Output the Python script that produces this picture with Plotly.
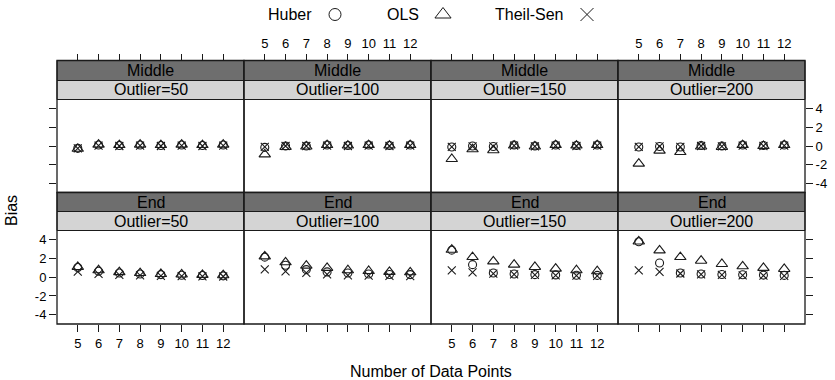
import plotly.graph_objects as go

# ---------------- data ----------------
n_points = [5, 6, 7, 8, 9, 10, 11, 12]
outlier_levels = [50, 100, 150, 200]
locations = ["Middle", "End"]
y_ticks = [-4, -2, 0, 2, 4]
y_tick_text = ["-4", "-2", "0", "2", "4"]

# Middle outlier
huber_mid_50 = [-0.25, 0.10, 0.05, 0.10, 0.05, 0.10, 0.05, 0.10]
ols_mid_50 = [-0.30, 0.15, 0.10, 0.15, 0.10, 0.15, 0.10, 0.15]
ts_mid_50 = [-0.25, 0.05, 0.00, 0.05, 0.00, 0.05, 0.00, 0.05]

huber_mid_100 = [-0.15, 0.00, 0.00, 0.10, 0.05, 0.10, 0.05, 0.10]
ols_mid_100 = [-0.90, -0.10, -0.05, 0.10, 0.05, 0.10, 0.05, 0.10]
ts_mid_100 = [-0.10, 0.00, 0.00, 0.05, 0.00, 0.05, 0.00, 0.05]

huber_mid_150 = [-0.10, 0.00, -0.05, 0.10, 0.00, 0.10, 0.05, 0.10]
ols_mid_150 = [-1.40, -0.35, -0.45, 0.05, -0.05, 0.10, 0.05, 0.10]
ts_mid_150 = [-0.10, -0.05, -0.05, 0.05, -0.05, 0.05, 0.00, 0.05]

huber_mid_200 = [-0.10, -0.05, -0.10, 0.05, 0.00, 0.10, 0.05, 0.10]
ols_mid_200 = [-1.90, -0.50, -0.65, -0.05, -0.10, 0.10, 0.00, 0.10]
ts_mid_200 = [-0.10, -0.05, -0.10, 0.00, -0.05, 0.05, 0.00, 0.05]

# End outlier
huber_end_50 = [1.05, 0.65, 0.45, 0.35, 0.28, 0.22, 0.18, 0.15]
ols_end_50 = [1.10, 0.75, 0.55, 0.45, 0.35, 0.30, 0.25, 0.22]
ts_end_50 = [0.60, 0.35, 0.25, 0.20, 0.15, 0.12, 0.10, 0.08]

huber_end_100 = [2.15, 1.28, 0.82, 0.57, 0.46, 0.35, 0.30, 0.28]
ols_end_100 = [2.23, 1.60, 1.24, 1.00, 0.75, 0.67, 0.57, 0.53]
ts_end_100 = [0.85, 0.64, 0.46, 0.30, 0.20, 0.18, 0.15, 0.12]

huber_end_150 = [2.90, 1.35, 0.46, 0.35, 0.28, 0.25, 0.22, 0.20]
ols_end_150 = [2.94, 2.16, 1.70, 1.35, 1.10, 0.92, 0.75, 0.64]
ts_end_150 = [0.74, 0.53, 0.39, 0.30, 0.25, 0.20, 0.18, 0.15]

huber_end_200 = [3.80, 1.52, 0.46, 0.35, 0.30, 0.27, 0.23, 0.20]
ols_end_200 = [3.83, 2.87, 2.16, 1.77, 1.42, 1.17, 1.00, 0.89]
ts_end_200 = [0.74, 0.57, 0.40, 0.30, 0.25, 0.20, 0.18, 0.15]

series = {
    ("Middle", 50): (huber_mid_50, ols_mid_50, ts_mid_50),
    ("Middle", 100): (huber_mid_100, ols_mid_100, ts_mid_100),
    ("Middle", 150): (huber_mid_150, ols_mid_150, ts_mid_150),
    ("Middle", 200): (huber_mid_200, ols_mid_200, ts_mid_200),
    ("End", 50): (huber_end_50, ols_end_50, ts_end_50),
    ("End", 100): (huber_end_100, ols_end_100, ts_end_100),
    ("End", 150): (huber_end_150, ols_end_150, ts_end_150),
    ("End", 200): (huber_end_200, ols_end_200, ts_end_200),
}
method_names = ["Huber", "OLS", "Theil-Sen"]

# ---------------- layout geometry (pixels) ----------------
W, H = 835, 380
col_edges = [57, 244, 431, 618, 805]
rows_px = [  # (strip_top, strip_mid, plot_top, plot_bottom)
    (60.5, 80.5, 99.5, 192.5),
    (192.5, 211.5, 230.5, 324.0),
]
FONT = "Liberation Sans, Arial, sans-serif"
INK = "#1a1a1a"


def fx(p):
    return p / W


def fy(p):
    return 1 - p / H


symbols = ["circle-open", "triangle-up-open", "x-thin-open"]
sizes = [8, 10, 8]

fig = go.Figure()
layout = dict(
    width=W, height=H, margin=dict(l=0, r=0, t=0, b=0),
    paper_bgcolor="white", plot_bgcolor="rgba(0,0,0,0)",
    showlegend=False, font=dict(family=FONT, size=13, color="black"),
)
shapes = []
annotations = []

for r, loc in enumerate(locations):
    st, sm, pt, pb = rows_px[r]
    for c, out in enumerate(outlier_levels):
        k = r * 4 + c + 1
        xa = "x" if k == 1 else f"x{k}"
        ya = "y" if k == 1 else f"y{k}"
        x0, x1 = col_edges[c], col_edges[c + 1]
        vals = series[(loc, out)]
        for m in range(3):
            fig.add_trace(go.Scatter(
                x=n_points, y=vals[m], mode="markers", name=method_names[m],
                xaxis=xa, yaxis=ya,
                marker=dict(symbol=symbols[m], size=sizes[m], color=INK,
                            line=dict(width=1.1, color=INK)),
                hoverinfo="x+y+name",
            ))
        xax = dict(domain=[fx(x0), fx(x1)], range=[4, 13], tickvals=n_points,
                   showgrid=False, zeroline=False, showline=False,
                   ticks="outside", ticklen=7, tickcolor=INK, tickwidth=1,
                   tickfont=dict(size=13, family=FONT, color="black"))
        if r == 0:
            xax.update(side="top", anchor="free", position=fy(st),
                       showticklabels=(c in (1, 3)))
        else:
            xax.update(side="bottom", anchor=ya, showticklabels=(c in (0, 2)))
        yax = dict(domain=[fy(pb), fy(pt)], range=[-5, 5], tickvals=y_ticks,
                   ticktext=y_tick_text, showgrid=False, zeroline=False,
                   showline=False, anchor=xa, tickcolor=INK, tickwidth=1,
                   ticklen=7, tickfont=dict(size=13, family=FONT, color="black"))
        if c == 0:
            yax.update(side="left", ticks="outside", showticklabels=(r == 1))
        elif c == 3:
            yax.update(side="right", ticks="outside", showticklabels=(r == 0))
        else:
            yax.update(ticks="", showticklabels=False)
        layout["xaxis" if k == 1 else f"xaxis{k}"] = xax
        layout["yaxis" if k == 1 else f"yaxis{k}"] = yax

        # strips
        shapes.append(dict(type="rect", xref="paper", yref="paper",
                           x0=fx(x0), x1=fx(x1), y0=fy(sm), y1=fy(st),
                           fillcolor="#6e6e6e", line=dict(color=INK, width=1)))
        shapes.append(dict(type="rect", xref="paper", yref="paper",
                           x0=fx(x0), x1=fx(x1), y0=fy(pt), y1=fy(sm),
                           fillcolor="#d4d4d4", line=dict(color=INK, width=1)))
        # panel border
        shapes.append(dict(type="rect", xref="paper", yref="paper",
                           x0=fx(x0), x1=fx(x1), y0=fy(pb), y1=fy(st),
                           line=dict(color=INK, width=1.3), layer="above"))
        annotations.append(dict(text=loc, xref="paper", yref="paper",
                                x=fx((x0 + x1) / 2), y=fy((st + sm) / 2),
                                showarrow=False, xanchor="center", yanchor="middle",
                                font=dict(size=16, family=FONT, color="black")))
        annotations.append(dict(text=f"Outlier={out}", xref="paper", yref="paper",
                                x=fx((x0 + x1) / 2), y=fy((sm + pt) / 2),
                                showarrow=False, xanchor="center", yanchor="middle",
                                font=dict(size=16, family=FONT, color="black")))

# axis titles
annotations.append(dict(text="Number of Data Points", xref="paper", yref="paper",
                        x=fx(431), y=fy(371), showarrow=False,
                        xanchor="center", yanchor="middle",
                        font=dict(size=16, family=FONT, color="black")))
annotations.append(dict(text="Bias", xref="paper", yref="paper",
                        x=fx(12), y=fy(211), showarrow=False, textangle=-90,
                        xanchor="center", yanchor="middle",
                        font=dict(size=16, family=FONT, color="black")))

# legend (text followed by symbol, drawn on a hidden strip axis)
legend_text_x = [290, 402.5, 529]
legend_sym_x = [335, 443, 587]
legend_y = 14.5
legend_sizes = [12, 14, 13]
for m in range(3):
    annotations.append(dict(text=method_names[m], xref="paper", yref="paper",
                            x=fx(legend_text_x[m]), y=fy(legend_y), showarrow=False,
                            xanchor="center", yanchor="middle",
                            font=dict(size=16, family=FONT, color="black")))
    fig.add_trace(go.Scatter(
        x=[legend_sym_x[m]], y=[legend_y], mode="markers", xaxis="x9", yaxis="y9",
        marker=dict(symbol=symbols[m], size=legend_sizes[m], color=INK,
                    line=dict(width=1, color=INK)),
        hoverinfo="skip",
    ))
layout["xaxis9"] = dict(domain=[0, 1], range=[0, W], visible=False, fixedrange=True)
layout["yaxis9"] = dict(domain=[fy(30), 1], range=[30, 0], visible=False,
                        anchor="x9", fixedrange=True)

layout["shapes"] = shapes
layout["annotations"] = annotations
fig.update_layout(**layout)
fig.write_html("out.html", config={"displayModeBar": False},
               post_script="document.body.style.margin='0px';document.body.style.overflow='hidden';")
